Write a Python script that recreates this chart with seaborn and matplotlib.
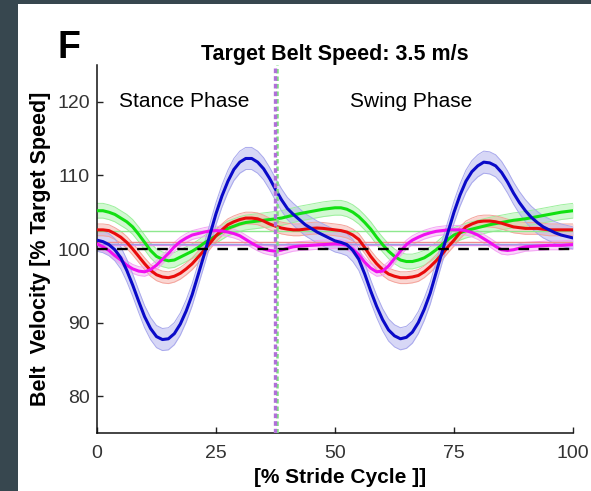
import numpy as np
import pandas as pd
import seaborn as sns
import matplotlib.pyplot as plt
from matplotlib.patches import Rectangle

# stride cycle sample grid (every 1.25 %)
stride = np.linspace(0, 100, 81)

# belt velocity traces [% of target speed]
blue = [101.2, 101.0, 100.6, 99.9, 98.8, 97.1, 95.1, 92.9, 90.8, 89.2,
        88.1, 87.7, 87.8, 88.5, 89.8, 91.6, 93.8, 96.5, 99.2, 102.0,
        104.8, 107.2, 109.2, 110.8, 111.8, 112.3, 112.3, 111.8, 110.9, 109.6,
        108.1, 106.7, 105.5, 104.7, 104.0, 103.3, 102.8, 102.3, 101.9, 101.5,
        101.1, 100.9, 100.6, 99.8, 98.6, 96.6, 94.3, 92.2, 90.4, 89.0,
        88.2, 87.8, 88.0, 88.7, 90.0, 91.8, 94.0, 96.8, 99.6, 102.3,
        105.0, 107.3, 109.2, 110.5, 111.3, 111.8, 111.7, 111.3, 110.4, 109.1,
        107.6, 106.3, 105.2, 104.3, 103.6, 103.0, 102.6, 102.2, 101.9, 101.7,
        101.5]
green = [105.2, 105.2, 105.0, 104.7, 104.2, 103.7, 103.0, 102.0, 100.9, 99.8,
         99.0, 98.6, 98.4, 98.5, 98.9, 99.3, 99.7, 100.2, 100.8, 101.3,
         101.8, 102.3, 102.8, 103.1, 103.4, 103.6, 103.7, 103.8, 103.9, 104.0,
         104.1, 104.2, 104.4, 104.6, 104.8, 104.95, 105.1, 105.25, 105.4, 105.5,
         105.6, 105.6, 105.4, 105.0, 104.4, 103.6, 102.7, 101.6, 100.6, 99.7,
         99.0, 98.5, 98.3, 98.3, 98.5, 98.8, 99.3, 99.9, 100.6, 101.3,
         101.9, 102.2, 102.5, 102.7, 102.9, 103.1, 103.3, 103.45, 103.6, 103.75,
         103.9, 104.0, 104.1, 104.25, 104.4, 104.55, 104.7, 104.85, 105.0, 105.1,
         105.2]
red = [102.6, 102.6, 102.5, 102.1, 101.6, 100.9, 100.0, 99.0, 98.0, 97.1,
       96.5, 96.2, 96.1, 96.3, 96.7, 97.3, 98.0, 98.9, 99.8, 100.8,
       101.8, 102.6, 103.3, 103.7, 104.0, 104.2, 104.2, 104.1, 103.8, 103.4,
       103.1, 102.85, 102.7, 102.6, 102.6, 102.7, 102.8, 102.85, 102.8, 102.7,
       102.6, 102.5, 102.3, 101.9, 101.3, 100.2, 99.0, 98.0, 97.2, 96.6,
       96.3, 96.1, 96.1, 96.2, 96.4, 96.9, 97.6, 98.4, 99.3, 100.3,
       101.2, 102.2, 103.0, 103.4, 103.7, 103.8, 103.8, 103.7, 103.5, 103.25,
       103.0, 102.9, 102.8, 102.8, 102.8, 102.7, 102.6, 102.6, 102.6, 102.6,
       102.6]
magenta = [100.7, 100.3, 99.8, 99.1, 98.5, 97.8, 97.3, 97.0, 96.9, 97.2,
           97.8, 98.6, 99.4, 100.3, 101.0, 101.5, 101.9, 102.1, 102.3, 102.45,
           102.5, 102.45, 102.3, 102.1, 101.8, 101.3, 100.8, 100.35, 100.0, 99.8,
           99.7, 99.85, 100.1, 100.3, 100.4, 100.45, 100.5, 100.55, 100.6, 100.65,
           100.7, 100.65, 100.5, 100.0, 99.2, 98.2, 97.4, 96.9, 97.0, 97.7,
           98.7, 99.7, 100.6, 101.2, 101.6, 101.95, 102.2, 102.4, 102.5, 102.6,
           102.6, 102.6, 102.5, 102.25, 101.9, 101.4, 100.9, 100.35, 99.9, 99.8,
           99.9, 100.1, 100.3, 100.35, 100.4, 100.45, 100.5, 100.5, 100.5, 100.55,
           100.6]

conditions = ["green", "red", "magenta", "blue"]
traces = {"green": green, "red": red, "magenta": magenta, "blue": blue}
spread = {"green": 1.0, "red": 0.8, "magenta": 0.6, "blue": 1.5}
mean_level = {"green": 102.5, "red": 101.0, "magenta": 100.5, "blue": 100.7}

line_col = {"green": "#12e012", "red": "#e80c0c", "magenta": "#f010f0", "blue": "#0a0ac8"}
fill_col = {"green": "#9cf09c", "red": "#f4a49c", "magenta": "#f4a4f4", "blue": "#a8a8ec"}
mean_col = {"green": "#8ee88e", "red": "#f08c8c", "magenta": "#e890e8", "blue": "#9c9ce8"}

ytick_vals = [80, 90, 100, 110, 120]
xtick_vals = [0, 25, 50, 75, 100]
phase_split = 37.5

df = pd.DataFrame({
    "stride": np.tile(stride, len(conditions)),
    "velocity": np.concatenate([traces[c] for c in conditions]),
    "condition": np.repeat(conditions, len(stride)),
})

sns.set_style("ticks")
plt.rcParams["font.family"] = ["Liberation Sans", "DejaVu Sans"]
plt.rcParams["text.color"] = "black"
plt.rcParams["axes.labelcolor"] = "black"

fig = plt.figure(figsize=(5.91, 4.91), dpi=100)
fig.patch.set_facecolor("#37474f")
fig.patches.append(Rectangle((18 / 591, 0), 1, 1 - 4 / 491, transform=fig.transFigure,
                             facecolor="white", edgecolor="none", zorder=-10))
ax = fig.add_axes([97 / 591, 1 - 433 / 491, 476 / 591, 368 / 491])
ax.set_facecolor("white")

# shaded bands and mean levels
for c in conditions:
    v = np.array(traces[c])
    ax.fill_between(stride, v - spread[c], v + spread[c], color=fill_col[c],
                    alpha=0.45, lw=0, zorder=1)
    ax.plot(stride, v - spread[c], color=fill_col[c], lw=0.7, zorder=1.5)
    ax.plot(stride, v + spread[c], color=fill_col[c], lw=0.7, zorder=1.5)
    ax.axhline(mean_level[c], color=mean_col[c], lw=1.0, zorder=1.8)

sns.lineplot(data=df, x="stride", y="velocity", hue="condition", hue_order=conditions,
             palette=line_col, lw=2.2, sort=False, errorbar=None, legend=False,
             ax=ax, zorder=3, solid_joinstyle="round")

ax.axhline(100, color="black", lw=1.7, dashes=(4.5, 4.0), zorder=4)
ax.axvline(phase_split + 0.25, color="#7ee07e", lw=1.8, dashes=(1.8, 1.2), zorder=5)
ax.axvline(phase_split - 0.2, color="#b070d8", lw=2.4, dashes=(1.4, 0.9), zorder=5)

ax.set_xlim(0, 100)
ax.set_ylim(75, 125)
ax.set_xticks(xtick_vals)
ax.set_yticks(ytick_vals)
ax.tick_params(direction="in", length=4, width=1, colors="#222222",
               labelcolor="#333333", labelsize=14)
ax.tick_params(axis="x", pad=9)
ax.tick_params(axis="y", pad=5)
sns.despine(ax=ax)
for s in ["left", "bottom"]:
    ax.spines[s].set_linewidth(1.1)
    ax.spines[s].set_color("#111111")

ax.set_xlabel("[% Stride Cycle ]]", fontsize=15, fontweight="bold")
ax.set_ylabel("Belt  Velocity [% Target Speed]", fontsize=15.5, fontweight="bold")
ax.xaxis.set_label_coords(0.51, -0.095)
ax.yaxis.set_label_coords(-0.097, 0.5)
ax.set_title("Target Belt Speed: 3.5 m/s", fontsize=15.5, fontweight="bold", pad=3)

ax.text(4.6, 120, "Stance Phase", fontsize=15, va="center", ha="left")
ax.text(53.2, 120, "Swing Phase", fontsize=15, va="center", ha="left")
fig.text(57 / 591, 1 - 48 / 491, "F", fontsize=27, fontweight="bold", va="center", ha="left")

fig.savefig("out.png", dpi=100, facecolor=fig.get_facecolor())
